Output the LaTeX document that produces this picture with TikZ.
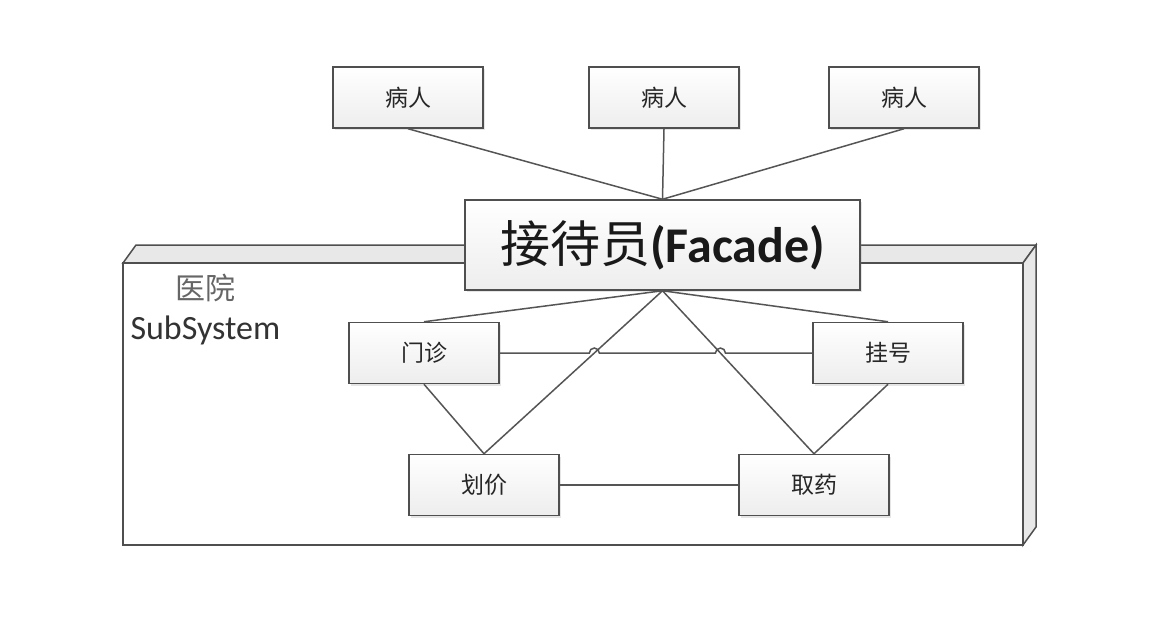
\documentclass[tikz,border=0pt]{standalone}
\usepackage{fontspec}
\setmainfont{Carlito}
\newfontfamily\cjk{Noto Sans CJK SC}
\usepackage{xcolor}
\usetikzlibrary{positioning, shadows, calc}
\definecolor{frame}{HTML}{4F4F4F}
\definecolor{edge}{HTML}{555555}
\definecolor{face}{HTML}{E8E8E8}

\begin{document}
\begin{tikzpicture}[x=1pt, y=1pt,
    box/.style={draw=frame, line width=1.5pt, top color=white, bottom color=black!7,
      minimum width=150pt, minimum height=61pt,
      drop shadow={opacity=0.2, shadow xshift=2pt, shadow yshift=-2pt},
      font=\cjk\fontsize{23}{26}\selectfont, text=black!85},
    link/.style={draw=edge, line width=1.5pt}]
  \useasboundingbox (0,0) rectangle (1174,-616);

  % subsystem package
  \filldraw[fill=face, draw=frame, line width=1.5pt]
    (123,-263) -- (136,-245) -- (1036,-245) -- (1023,-263) -- cycle;
  \filldraw[fill=face, draw=frame, line width=1.5pt]
    (1023,-263) -- (1036,-245) -- (1036,-527) -- (1023,-545) -- cycle;
  \filldraw[fill=white, draw=frame, line width=1.5pt] (123,-263) rectangle (1023,-545);
  \node[font=\cjk\fontsize{30}{34}\selectfont, text=black!60] (yy) at (205,-288) {医院};
  \node[anchor=west, font=\fontsize{34}{40}\selectfont, text=black!80] (ss) at (127,-330) {SubSystem};

  % patients
  \foreach \i/\xx in {1/408, 2/664, 3/904} {
    \node[box] (br\i) at (\xx,-97.5) {病人};
  }

  % facade
  \node[box, minimum width=395pt, minimum height=90pt,
    font=\fontsize{50}{56}\selectfont, text=black!90] (jd) at (662.5,-245)
    {{\cjk 接待员}\textbf{(Facade)}};

  % subsystem classes
  \node[box] (mz) at (424,-353) {门诊};
  \node[box] (gh) at (888,-353) {挂号};
  \node[box] (hj) at (484,-485) {划价};
  \node[box] (qy) at (814,-485) {取药};

  \foreach \i in {1,2,3} {
    \draw[link] (br\i.south) -- (jd.north);
  }
  \draw[link] (jd.south) -- (mz.north);
  \draw[link] (jd.south) -- (gh.north);
  \draw[link] (jd.south) -- (hj.north);
  \draw[link] (jd.south) -- (qy.north);
  \draw[link] (mz.south) -- (hj.north);
  \draw[link] (gh.south) -- (qy.north);
  \draw[link] (hj.east) -- (qy.west);

  % line jumps
  \coordinate (j1) at (intersection of mz.east--gh.west and jd.south--hj.north);
  \coordinate (j2) at (intersection of mz.east--gh.west and jd.south--qy.north);
  \draw[link] (mz.east) -- ($(j1)+(-5,0)$) arc[start angle=180, end angle=0, radius=5]
    -- ($(j2)+(-5,0)$) arc[start angle=180, end angle=0, radius=5] -- (gh.west);
\end{tikzpicture}
\end{document}
